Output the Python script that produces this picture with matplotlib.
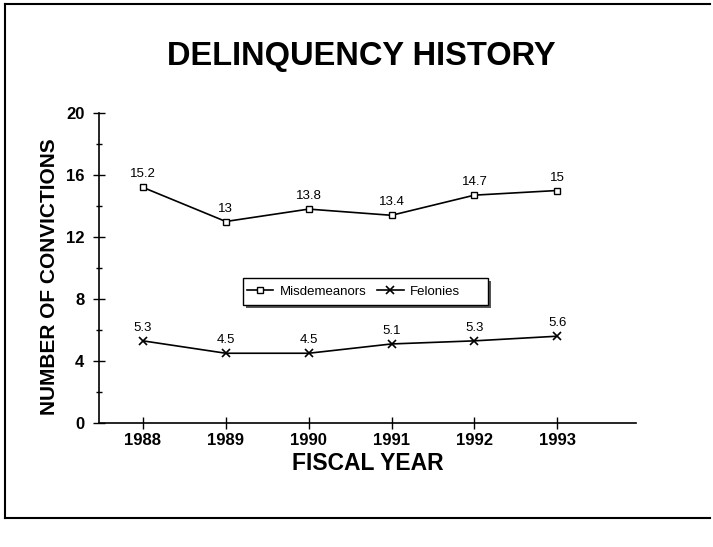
import matplotlib
matplotlib.use("Agg")
import matplotlib.pyplot as plt
from matplotlib.ticker import MultipleLocator
from matplotlib.lines import Line2D
from matplotlib.patches import Rectangle

years = [1988, 1989, 1990, 1991, 1992, 1993]
misdemeanors = [15.2, 13, 13.8, 13.4, 14.7, 15]
felonies = [5.3, 4.5, 4.5, 5.1, 5.3, 5.6]
mis_labels = ["15.2", "13", "13.8", "13.4", "14.7", "15"]
fel_labels = ["5.3", "4.5", "4.5", "5.1", "5.3", "5.6"]

plt.rcParams['font.family'] = ['Liberation Sans', 'DejaVu Sans']

fig = plt.figure(figsize=(7.13, 5.47), dpi=100)
W, H = 713, 547

# page border lines
fig.add_artist(Line2D([5/W, 5/W], [1-4/H, 1-518/H], color='black', lw=1.5, transform=fig.transFigure))
fig.add_artist(Line2D([5/W, 710/W], [1-4/H, 1-4/H], color='black', lw=1.5, transform=fig.transFigure))
fig.add_artist(Line2D([5/W, 710/W], [1-518/H, 1-518/H], color='black', lw=1.5, transform=fig.transFigure))

ax = fig.add_axes([99/W, 1-423/H, (636-99)/W, (423-113)/H])
ax.plot(years, misdemeanors, color='black', lw=1.2, marker='s', markersize=5,
        markerfacecolor='white', markeredgecolor='black', label='Misdemeanors')
ax.plot(years, felonies, color='black', lw=1.2, marker='x', markersize=6,
        markeredgewidth=1.2, label='Felonies')

for x, y, t in zip(years, misdemeanors, mis_labels):
    ax.annotate(t, (x, y), xytext=(0, 5), textcoords='offset points',
                ha='center', va='bottom', fontsize=9.5)
for x, y, t in zip(years, felonies, fel_labels):
    ax.annotate(t, (x, y), xytext=(0, 5), textcoords='offset points',
                ha='center', va='bottom', fontsize=9.5)

ax.set_xlim(1988 - 0.53, 1993 + 0.95)
ax.set_ylim(0, 20)
ax.set_xticks(years)
ax.set_xticklabels([str(y) for y in years], fontsize=12, fontweight='bold')
ax.yaxis.set_major_locator(MultipleLocator(4))
ax.yaxis.set_minor_locator(MultipleLocator(2))
for lab in ax.get_yticklabels():
    lab.set_fontsize(12)
    lab.set_fontweight('bold')
ax.tick_params(axis='y', which='major', direction='inout', length=9, width=1, pad=6)
ax.tick_params(axis='y', which='minor', direction='inout', length=5, width=1)
ax.tick_params(axis='x', which='major', direction='inout', length=8, width=1, pad=3)
ax.spines['top'].set_visible(False)
ax.spines['right'].set_visible(False)
ax.spines['left'].set_linewidth(1.2)
ax.spines['bottom'].set_linewidth(1.2)

ax.set_xlabel('FISCAL YEAR', fontsize=16.5, fontweight='bold', labelpad=3)
ax.set_ylabel('NUMBER OF CONVICTIONS', fontsize=15, fontweight='bold')
ax.yaxis.set_label_coords(-0.074, 0.471)

fig.text(361/W, 1-56/H, 'DELINQUENCY HISTORY', fontsize=23.5, fontweight='bold',
         ha='center', va='center')

# legend frame with drop shadow
x0, x1 = (243-99)/537, (488-99)/537
y0, y1 = (423-305)/310, (423-278)/310
dx, dy = 3/537, 3/310
ax.add_patch(Rectangle((x0+dx, y0-dy), x1-x0, y1-y0, transform=ax.transAxes,
                       facecolor='#555555', edgecolor='none', zorder=4, clip_on=False))
ax.add_patch(Rectangle((x0, y0), x1-x0, y1-y0, transform=ax.transAxes,
                       facecolor='white', edgecolor='black', lw=1.0, zorder=5, clip_on=False))

leg = ax.legend(loc='center left', bbox_to_anchor=(0.2756, (y0+y1)/2), ncol=2,
                frameon=False, fontsize=9.5, handlelength=2.0, handletextpad=0.5,
                columnspacing=0.8, borderpad=0, borderaxespad=0)
leg.set_zorder(6)

fig.savefig('out.png', dpi=100)
